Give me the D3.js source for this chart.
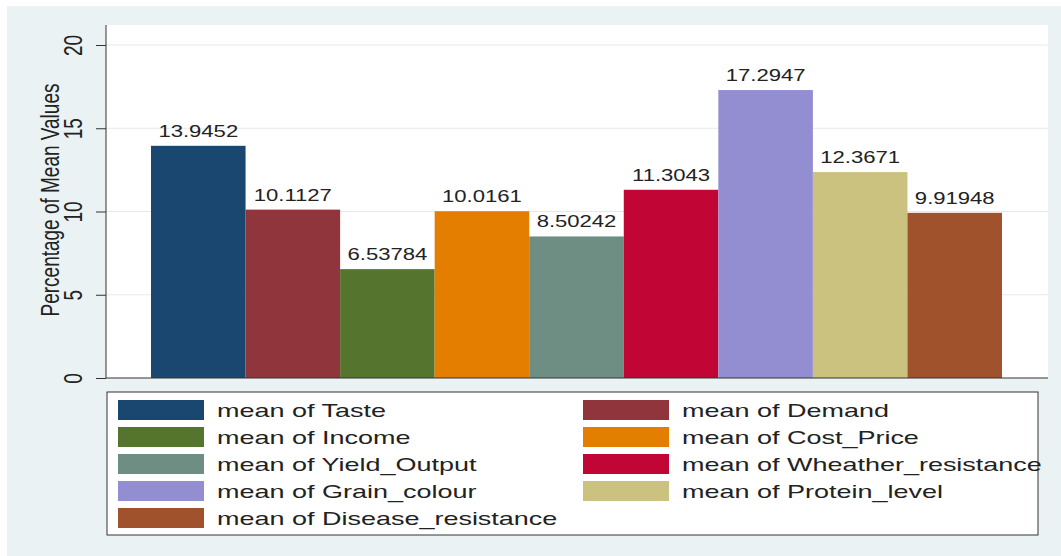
<html>
<meta charset="utf-8" />
<head>
<title>Percentage of Mean Values</title>
<script src="https://cdn.jsdelivr.net/npm/d3@7/dist/d3.min.js"></script>
<style>
	body { margin: 0; background: #fff; }
	text { font-family: "Liberation Sans", Arial, sans-serif; }
</style>
</head>
<body>
<svg id="chart" width="1061" height="556"></svg>
<script>
// 데이터
const categories = ['Taste', 'Demand', 'Income', 'Cost_Price', 'Yield_Output',
	'Wheather_resistance', 'Grain_colour', 'Protein_level', 'Disease_resistance'];
const values = [13.9452, 10.1127, 6.53784, 10.0161, 8.50242, 11.3043, 17.2947, 12.3671, 9.91948];
const valueLabels = ['13.9452', '10.1127', '6.53784', '10.0161', '8.50242', '11.3043', '17.2947', '12.3671', '9.91948'];
const colors = ['#1a476f', '#90353b', '#55752f', '#e37e00', '#6e8e84', '#c10534', '#938dd2', '#cac27e', '#a0522d'];
const yTicks = [0, 5, 10, 15, 20];

// 원본 그림이 가로로 늘어나 있어서 글자도 가로로 늘린다
const SX = 1.38;

const svg = d3.select('#chart');

// 바깥 배경 (stata 스타일)
svg.append('rect').attr('x', 7).attr('y', 6).attr('width', 1054).attr('height', 550).attr('fill', '#eaf2f3');

const plot = { left: 106, right: 1048, top: 25, bottom: 378 };
svg.append('rect')
	.attr('x', plot.left).attr('y', plot.top)
	.attr('width', plot.right - plot.left).attr('height', plot.bottom - plot.top)
	.attr('fill', '#fff');

const yScale = d3.scaleLinear().domain([0, 20]).range([378, 45]);
const xScale = d3.scaleBand().domain(categories).range([151, 1002]).paddingInner(0).paddingOuter(0);

// 그리드
svg.append('g').selectAll('line.grid')
	.data(yTicks.filter(d => d > 0)).enter()
	.append('line')
	.attr('x1', plot.left).attr('x2', plot.right)
	.attr('y1', d => yScale(d)).attr('y2', d => yScale(d))
	.attr('stroke', '#e3eaec').attr('stroke-width', 1);

// 막대
svg.append('g').selectAll('rect.bar')
	.data(values).enter()
	.append('rect')
	.attr('x', (d, i) => xScale(categories[i]))
	.attr('width', xScale.bandwidth())
	.attr('y', d => yScale(d))
	.attr('height', d => yScale(0) - yScale(d))
	.attr('fill', (d, i) => colors[i]);

// 값 라벨
svg.append('g').selectAll('text.val')
	.data(values).enter()
	.append('text')
	.attr('transform', (d, i) => 'translate(' + (xScale(categories[i]) + xScale.bandwidth() / 2) + ',' + (yScale(d) - 9) + ') scale(' + SX + ',1)')
	.attr('text-anchor', 'middle')
	.attr('font-size', 16)
	.attr('fill', '#222')
	.text((d, i) => valueLabels[i]);

// y축
const yAxis = d3.axisLeft(yScale).tickValues(yTicks).tickSize(10).tickPadding(5);
const yG = svg.append('g').attr('transform', 'translate(' + plot.left + ',0)').call(yAxis);
yG.select('.domain').attr('d', 'M0,' + plot.top + 'V' + plot.bottom).attr('stroke', '#333');
yG.selectAll('.tick line').attr('stroke', '#333');
yG.selectAll('.tick text')
	.attr('font-size', 19).attr('fill', '#222')
	.attr('font-family', '"Liberation Sans", Arial, sans-serif')
	.attr('x', 0).attr('dy', '0.35em')
	.attr('transform', 'translate(-33,0) scale(' + SX + ',1) rotate(-90)')
	.attr('text-anchor', 'middle');

// x축 선
svg.append('line')
	.attr('x1', plot.left).attr('x2', plot.right)
	.attr('y1', plot.bottom).attr('y2', plot.bottom)
	.attr('stroke', '#333');

// y축 제목
svg.append('text')
	.attr('transform', 'translate(50,200) scale(' + SX + ',1) rotate(-90)')
	.attr('text-anchor', 'middle')
	.attr('dy', '0.35em')
	.attr('font-size', 19)
	.attr('fill', '#222')
	.text('Percentage of Mean Values');

// 범례
const legend = svg.append('g');
legend.append('rect')
	.attr('x', 107).attr('y', 392).attr('width', 931).attr('height', 143)
	.attr('fill', '#fff').attr('stroke', '#333');

const colX = [118, 583];
const items = legend.selectAll('g.item')
	.data(categories).enter()
	.append('g')
	.attr('transform', (d, i) => 'translate(' + colX[i % 2] + ',' + (400 + Math.floor(i / 2) * 27) + ')');
items.append('rect')
	.attr('width', 86).attr('height', 20)
	.attr('fill', (d, i) => colors[i]);
items.append('text')
	.attr('transform', 'translate(99,10) scale(1.42,1)')
	.attr('dy', '0.35em')
	.attr('font-size', 19).attr('fill', '#222')
	.text(d => 'mean of ' + d);
</script>
</body>
</html>
